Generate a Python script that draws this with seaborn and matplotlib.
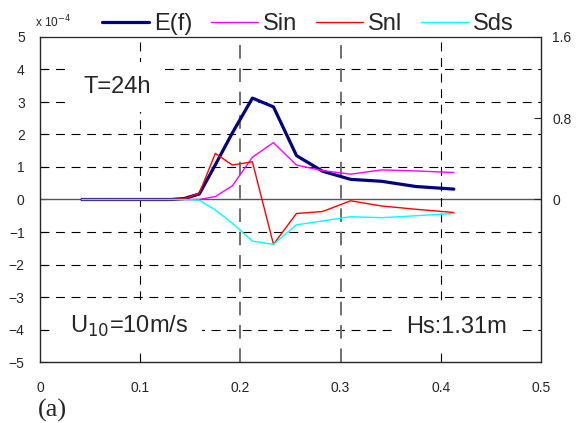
import pandas as pd
import numpy as np
import matplotlib
matplotlib.use("Agg")
import matplotlib.pyplot as plt
import seaborn as sns

# frequency bins (Hz)
freqs = [0.042, 0.046, 0.051, 0.056, 0.061, 0.067, 0.074, 0.081, 0.090, 0.098,
         0.108, 0.119, 0.131, 0.144, 0.159, 0.175, 0.192, 0.212, 0.233, 0.256,
         0.282, 0.310, 0.341, 0.375, 0.413]

# values in units of 1e-4
e_f = [0, 0, 0, 0, 0, 0, 0, 0, 0, 0, 0, 0, 0, 0.03, 0.17, 1.07, 2.05, 3.12,
       2.85, 1.35, 0.87, 0.62, 0.56, 0.40, 0.32]
s_in = [0, 0, 0, 0, 0, 0, 0, 0, 0, 0, 0, 0, 0, 0, 0, 0.09, 0.42, 1.30, 1.75,
        1.06, 0.89, 0.78, 0.91, 0.88, 0.83]
s_nl = [0, 0, 0, 0, 0, 0, 0, 0, 0, 0, 0, 0, 0, 0.02, 0.19, 1.42, 1.06, 1.16,
        -1.38, -0.43, -0.37, -0.04, -0.20, -0.30, -0.40]
s_ds = [0, 0, 0, 0, 0, 0, 0, 0, 0, 0, 0, 0, 0, 0, -0.02, -0.32, -0.73, -1.28,
        -1.38, -0.78, -0.66, -0.53, -0.56, -0.50, -0.43]

series = ["E(f)", "Sin", "Snl", "Sds"]
colors = ["#000080", "#ff00ff", "#ff0000", "#00ffff"]
widths = [2.3, 1.0, 1.0, 1.0]

df = pd.DataFrame({"f": freqs, "E(f)": e_f, "Sin": s_in, "Snl": s_nl, "Sds": s_ds})

sns.set_style("white")
plt.rcParams['font.family'] = ['Liberation Sans', 'DejaVu Sans']

fig = plt.figure(figsize=(5.77, 4.23), dpi=100)
ax = fig.add_axes([40/577, 1 - 362/423, 501/577, 325/423])

# grid lines (two overlaid grids in the original)
for yv in [-4, -3, -2, -1, 1, 2, 3, 4]:
    ax.axhline(yv, color='black', lw=0.8, ls=(0, (8, 6)), zorder=1)
ax.axhline(0, color='#555555', lw=1.0, zorder=1)
for xv in [0.1, 0.4]:
    ax.axvline(xv, color='black', lw=0.8, ls=(0, (8, 6)), zorder=1)
for xv in [0.2, 0.3]:
    ax.axvline(xv, color='#707070', lw=1.4, ls=(0, (7, 5)), zorder=1)

for name, c, w in zip(series, colors, widths):
    sns.lineplot(data=df, x="f", y=name, color=c, lw=w, ax=ax, label=name, zorder=3)

ax.set_xlim(0, 0.5)
ax.set_ylim(-5, 5)
ax.set_xticks([0, 0.1, 0.2, 0.3, 0.4, 0.5])
ax.set_xticklabels(["0", "0.1", "0.2", "0.3", "0.4", "0.5"])
ax.set_yticks(range(-5, 6))
ax.set_yticklabels([str(v).replace("-", "\u2212") for v in range(-5, 6)])
ax.tick_params(axis='x', direction='in', length=5, labelsize=10, pad=14)
ax.tick_params(axis='y', direction='in', length=5, labelsize=10, pad=11)
ax.set_xlabel("")
ax.set_ylabel("")
for sp in ax.spines.values():
    sp.set_color('black')
    sp.set_linewidth(0.9)
ax.spines['top'].set_color('#777777')

ax2 = ax.twinx()
ax2.set_ylim(-1.6, 1.6)
ax2.set_yticks([0, 0.8, 1.6])
ax2.set_yticklabels(["0", "0.8", "1.6"])
ax2.tick_params(axis='y', direction='in', length=5, labelsize=10, pad=8)
ax2.grid(False)

# annotations
box = dict(facecolor='white', edgecolor='none', pad=10)
ax.text(0.043, 3.27, "T=24h", fontsize=17, va='baseline', ha='left', bbox=box, zorder=4)
ax.text(0.030, -4.1, "U$_{10}$=10m/s", fontsize=17, va='baseline', ha='left', bbox=box, zorder=4)
ax.text(0.365, -4.1, "Hs:1.31m", fontsize=17, va='baseline', ha='left', bbox=box, zorder=4)

fig.text(35/577, 1 - 22/423, "x 10$^{-4}$", fontsize=8.5, ha='left', va='center')
fig.text(38/577, 1 - 410/423, "(a)", fontsize=19, family='Liberation Serif', ha='left', va='center')

handles, labels = ax.get_legend_handles_labels()
ax.legend_.remove()
fig.legend(handles, labels, loc='center', bbox_to_anchor=(308/577, 1 - 24/423), ncol=4,
           frameon=False, fontsize=17, handlelength=2.0, handletextpad=0.2,
           columnspacing=0.8, borderaxespad=0, borderpad=0)

fig.savefig("out.png", dpi=100)
